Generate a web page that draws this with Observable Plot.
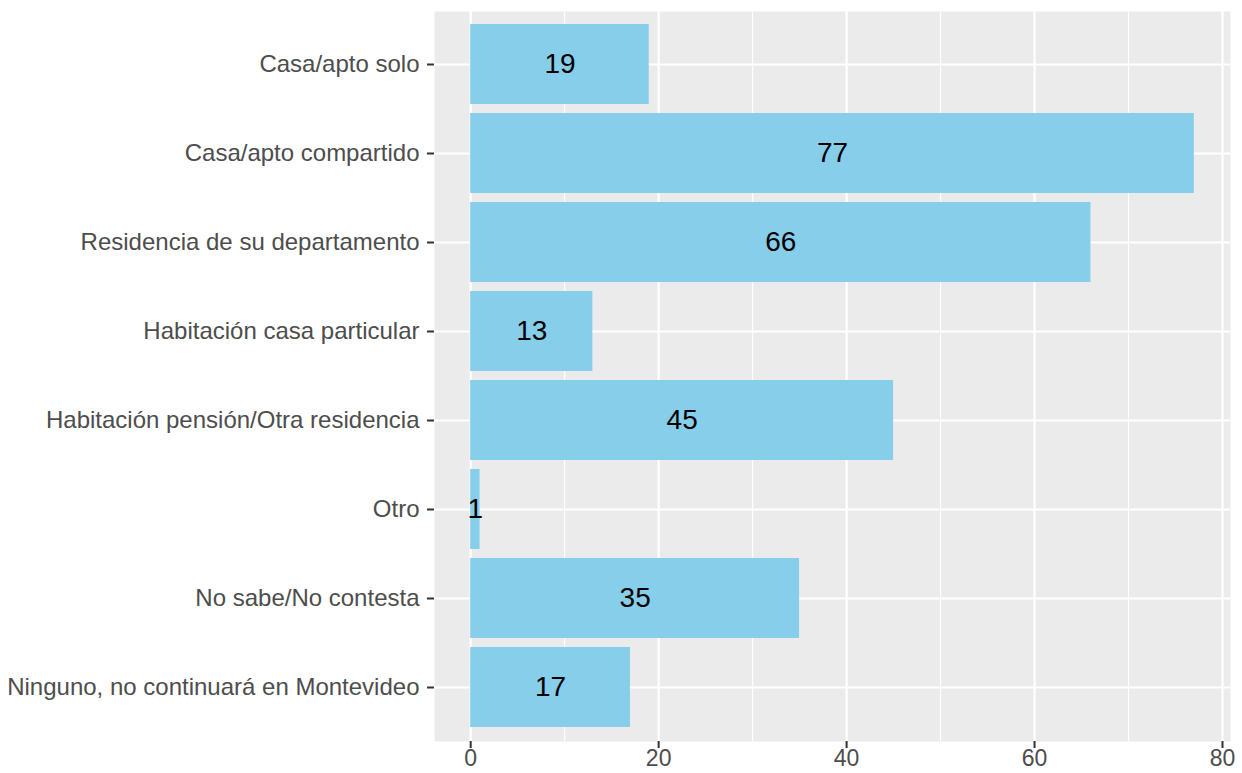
<!DOCTYPE html>
<html>
<head>
<meta charset="utf-8">
<script src="https://cdn.jsdelivr.net/npm/d3@7"></script>
<script src="https://cdn.jsdelivr.net/npm/@observablehq/plot@0.6"></script>
<style>
  html, body { margin: 0; padding: 0; background: white; }
</style>
</head>
<body>
<div id="chart"></div>
<script>
const categories = [
  "Casa/apto solo",
  "Casa/apto compartido",
  "Residencia de su departamento",
  "Habitación casa particular",
  "Habitación pensión/Otra residencia",
  "Otro",
  "No sabe/No contesta",
  "Ninguno, no continuará en Montevideo"
];
const values = [19, 77, 66, 13, 45, 1, 35, 17];
const majorTicks = [0, 20, 40, 60, 80];
const minorTicks = [10, 30, 50, 70];

const data = categories.map((c, i) => ({category: c, value: values[i]}));

const chart = Plot.plot({
  width: 1242,
  height: 773,
  marginLeft: 434,
  marginRight: 12,
  marginTop: 11,
  marginBottom: 32,
  style: {fontFamily: "'Liberation Sans', Arial, sans-serif", background: "white"},
  x: {domain: [-3.85, 80.85], label: null},
  y: {domain: categories, paddingInner: 0.1, paddingOuter: 0.15, label: null},
  marks: [
    Plot.frame({fill: "#EBEBEB"}),
    Plot.gridX(minorTicks, {stroke: "white", strokeOpacity: 1, strokeWidth: 1.1}),
    Plot.gridX(majorTicks, {stroke: "white", strokeOpacity: 1, strokeWidth: 2.2}),
    Plot.gridY({stroke: "white", strokeOpacity: 1, strokeWidth: 2.2}),
    Plot.barX(data, {x: "value", y: "category", fill: "#87CEEB"}),
    Plot.text(data, {x: d => d.value / 2, y: "category", text: d => String(d.value), fill: "black", fontSize: 28}),
    Plot.axisY({tickSize: 7, tickPadding: 8, fontSize: 24, stroke: "#333333", fill: "#4D4D4D", strokeWidth: 2, label: null}),
    Plot.axisX({ticks: majorTicks, tickSize: 7, tickPadding: 1, fontSize: 23, stroke: "#333333", fill: "#4D4D4D", strokeWidth: 2, label: null})
  ]
});
document.getElementById("chart").appendChild(chart);
</script>
</body>
</html>
